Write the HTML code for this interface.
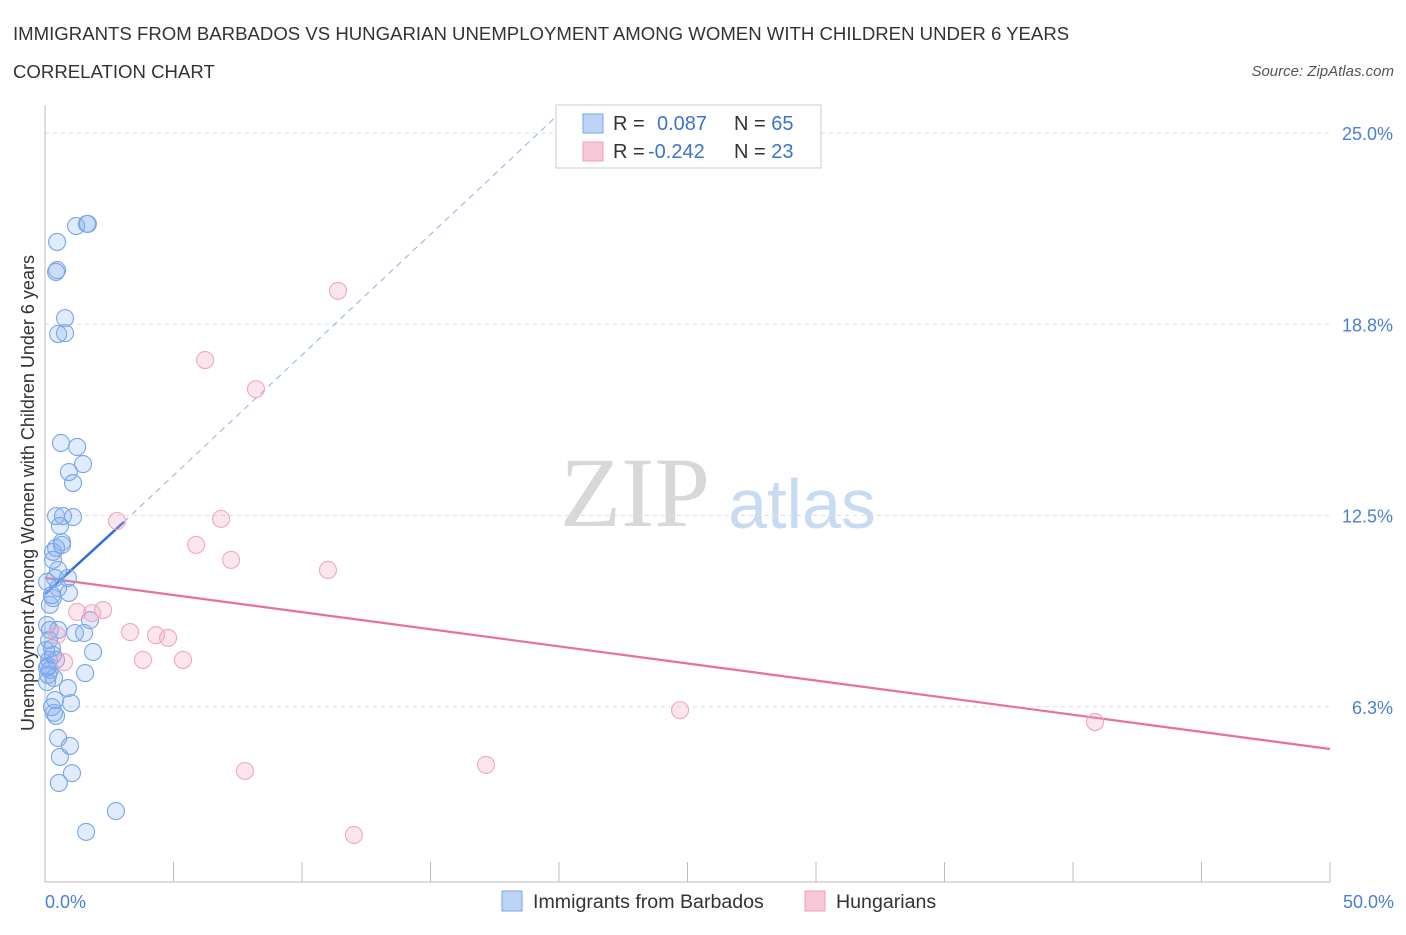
<!DOCTYPE html>
<html><head><meta charset="utf-8"><style>
body{margin:0;background:#fff;font-family:"Liberation Sans",sans-serif;}
svg text{font-family:"Liberation Sans",sans-serif;}
</style></head><body>
<svg id="chart" width="1406" height="930" xmlns="http://www.w3.org/2000/svg">
<text x="13" y="40" font-size="18.6" fill="#333">IMMIGRANTS FROM BARBADOS VS HUNGARIAN UNEMPLOYMENT AMONG WOMEN WITH CHILDREN UNDER 6 YEARS</text>
<text x="13" y="78" font-size="18.6" fill="#333">CORRELATION CHART</text>
<text x="1394" y="76" font-size="15" fill="#555" font-style="italic" text-anchor="end">Source: ZipAtlas.com</text>
<text x="635" y="526" font-size="100" fill="#d8d8d8" style="font-family:'Liberation Serif',serif" text-anchor="middle">ZIP</text>
<text x="802" y="528" font-size="70" fill="#c9dbf2" text-anchor="middle">atlas</text>
<g id="grid"></g>
<line x1="45" y1="105" x2="45" y2="882" stroke="#bbb"/>
<line x1="45" y1="882" x2="1330" y2="882" stroke="#bbb"/>
<g id="xticks"></g>
<text x="45" y="908" font-size="18" fill="#4a7fd4">0.0%</text>
<text x="1394" y="908" font-size="18" fill="#4a7fd4" text-anchor="end">50.0%</text>
<text transform="translate(34,493) rotate(-90)" font-size="18" fill="#333" text-anchor="middle">Unemployment Among Women with Children Under 6 years</text>
<g id="trend"></g>
<g id="points"></g>
<g>
<rect x="556" y="105" width="265" height="63" fill="#fff" stroke="#ccc"/>
<rect x="583" y="114" width="20" height="19" fill="#bcd4f6" stroke="#7aa3e6"/>
<text x="613" y="130" font-size="20" fill="#333">R = <tspan fill="#3b73d1" x="657">0.087</tspan><tspan x="734" fill="#333">N = </tspan><tspan fill="#3b73d1">65</tspan></text>
<rect x="583" y="142" width="20" height="19" fill="#f8c8d6" stroke="#f0a0b8"/>
<text x="613" y="158" font-size="20" fill="#333">R = <tspan fill="#3b73d1" x="648">-0.242</tspan><tspan x="734" fill="#333">N = </tspan><tspan fill="#3b73d1">23</tspan></text>
</g>
<g>
<rect x="502" y="891" width="20" height="20" fill="#bcd4f6" stroke="#7aa3e6"/>
<text x="533" y="908" font-size="19.6" fill="#333">Immigrants from Barbados</text>
<rect x="805" y="891" width="20" height="20" fill="#f8c8d6" stroke="#f0a0b8"/>
<text x="836" y="908" font-size="19.6" fill="#333">Hungarians</text>
</g>
</svg>
<script>
const yTicks=[25,18.75,12.5,6.25];
const yTickLabels=["25.0%","18.8%","12.5%","6.3%"];
const xTickVals=[5,10,15,20,25,30,35,40,45,50];
const blueX=[1.63,1.67,1.21,0.47,0.47,0.43,0.78,0.51,0.78,0.62,1.25,1.48,0.93,1.09,0.43,0.70,1.09,0.58,0.66,0.43,0.31,0.51,0.39,0.89,0.08,0.51,0.93,0.31,0.19,0.08,0.51,1.17,1.52,1.75,0.16,0.27,0.31,0.16,0.43,0.12,0.19,0.35,0.08,0.89,1.56,1.87,1.01,0.27,0.43,0.35,0.51,0.97,0.58,1.05,0.54,2.76,1.60,0.08,0.19,0.27,0.04,0.12,0.39,0.66,0.31];
const blueY=[22.03,22.03,21.96,21.44,20.52,20.46,18.95,18.43,18.46,14.87,14.74,14.18,13.92,13.56,12.48,12.48,12.45,12.16,11.63,11.44,11.31,10.72,10.46,10.46,10.33,10.13,9.97,9.80,9.58,8.92,8.76,8.66,8.66,9.08,8.43,8.17,7.94,7.78,7.78,7.58,7.45,7.19,7.06,6.86,7.35,8.04,6.37,6.24,5.95,6.05,5.23,4.97,4.61,4.08,3.76,2.84,2.16,7.52,8.76,9.90,8.10,7.29,6.47,11.54,11.05];
const pinkX=[11.40,6.23,8.21,2.80,6.85,5.88,7.24,11.01,1.25,1.83,2.26,3.31,4.32,4.79,3.81,5.37,0.74,0.47,7.78,17.16,24.71,40.86,12.02];
const pinkY=[19.84,17.58,16.63,12.32,12.39,11.54,11.05,10.72,9.35,9.31,9.41,8.69,8.59,8.50,7.78,7.78,7.71,8.59,4.15,4.35,6.14,5.75,2.06];
const blueTrend=[[0,9.93],[3.07,12.29]];
const blueTrendExt=[[3.07,12.29],[19.84,25.5]];
const pinkTrend=[[0,10.46],[50,4.87]];
const X=v=>45+v*25.7, Y=v=>898-v*30.6;
const NS="http://www.w3.org/2000/svg";
function mk(tag,attrs,parent){const e=document.createElementNS(NS,tag);for(const k in attrs)e.setAttribute(k,attrs[k]);parent.appendChild(e);return e;}
const grid=document.getElementById('grid');
yTicks.forEach((t,i)=>{
 const l=mk('line',{x1:45,x2:1330,y1:Y(t),y2:Y(t),stroke:'#ddd','stroke-dasharray':'4,4'},grid);
 
 
 const tx=mk('text',{x:1393,y:Y(t)+7,'font-size':18,fill:'#4a7fd4','text-anchor':'end'},grid);
 tx.textContent=yTickLabels[i];
 
 
});
const xt=document.getElementById('xticks');
xTickVals.forEach(v=>{
 const l=mk('line',{x1:X(v),x2:X(v),y1:862,y2:882,stroke:'#bbb'},xt);
 
 
});
const tr=document.getElementById('trend');
function seg(p,stroke,w,dash,name){
 const l=mk('line',{x1:X(p[0][0]),y1:Y(p[0][1]),x2:X(p[1][0]),y2:Y(p[1][1]),stroke:stroke,'stroke-width':w},tr);
 if(dash)l.setAttribute('stroke-dasharray',dash);
 
 
}
seg(pinkTrend,'#e8709a',2.2,null,'hungarians-trendline');
seg(blueTrendExt,'#8fb0e6',1,'6,5','barbados-trendline-extension');
seg(blueTrend,'#2f6fd6',2.5,null,'barbados-trendline');
const pts=document.getElementById('points');
blueX.forEach((x,i)=>{
 const c=mk('circle',{cx:X(x),cy:Y(blueY[i]),r:8.5,fill:'rgba(130,175,240,0.25)',stroke:'#7aa6e8','stroke-width':1.1},pts);
 
 
});
pinkX.forEach((x,i)=>{
 const c=mk('circle',{cx:X(x),cy:Y(pinkY[i]),r:8.5,fill:'rgba(245,165,195,0.28)',stroke:'#f2a6be','stroke-width':1.1},pts);
 
 
});
</script>
</body></html>
